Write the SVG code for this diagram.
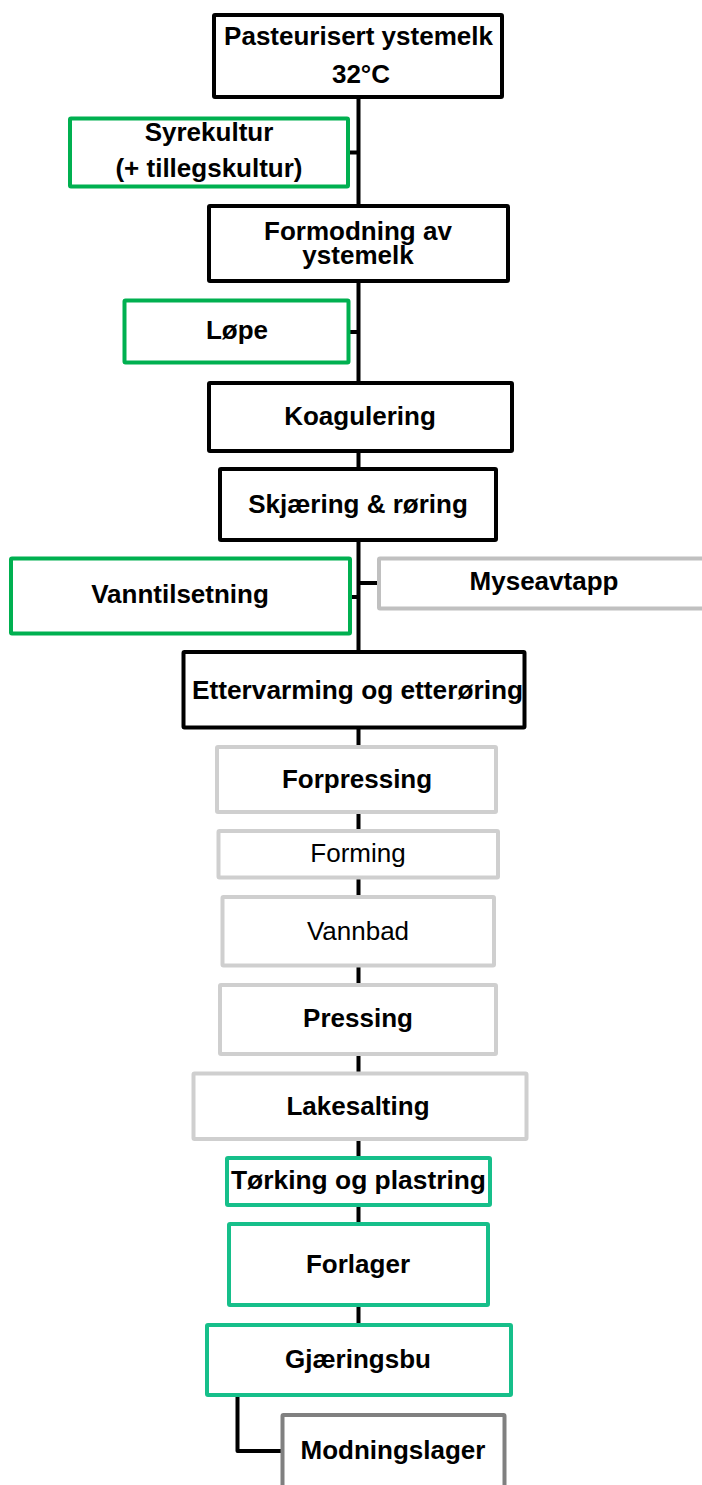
<svg xmlns="http://www.w3.org/2000/svg" width="702" height="1485" viewBox="0 0 702 1485">
<style>
.box{fill:#fff;stroke-width:4;stroke-linejoin:round}
.k{stroke:#000}
.g{stroke:#00b050}
.gr{stroke:#c0c0c0}
.lg{stroke:#cfcfcf}
.t{stroke:#16bf8a}
.dg{stroke:#808080}
.c{fill:none;stroke:#000;stroke-width:4;stroke-linejoin:round;stroke-linecap:butt}
text{font-family:"Liberation Sans",Arial,sans-serif;font-size:26px;font-weight:bold;fill:#000;text-anchor:middle}
text.r{font-weight:normal}
</style>
<rect width="702" height="1485" fill="#fff"/>
<g id="connectors">
<path class="c" d="M358.5 97 V1325"/>
<path class="c" d="M349 152.5 H358.5"/>
<path class="c" d="M349 332 H358.5"/>
<path class="c" d="M351 597 H358.5"/>
<path class="c" d="M358.5 583 H379"/>
<path class="c" d="M237.5 1395 V1451 H282.5"/>
</g>
<g id="n1"><rect class="box k" x="214" y="15" width="288" height="82" rx="1"/><text x="358.5" y="45">Pasteurisert ystemelk</text><text x="361" y="83">32°C</text></g>
<g id="n2"><rect class="box g" x="70" y="118.5" width="278" height="68" rx="1"/><text x="209" y="141">Syrekultur</text><text x="209" y="176.5">(+ tillegskultur)</text></g>
<g id="n3"><rect class="box k" x="209" y="206" width="299" height="75" rx="1"/><text x="358" y="239.5">Formodning av</text><text x="358" y="264">ystemelk</text></g>
<g id="n4"><rect class="box g" x="124.5" y="300.5" width="224" height="62" rx="1"/><text x="237" y="339">Løpe</text></g>
<g id="n5"><rect class="box k" x="209" y="383" width="303" height="68" rx="1"/><text x="360" y="425">Koagulering</text></g>
<g id="n6"><rect class="box k" x="220" y="469" width="276" height="71" rx="1"/><text x="358" y="513">Skjæring &amp; røring</text></g>
<g id="n7"><rect class="box g" x="11" y="558.5" width="339" height="75" rx="1"/><text x="180" y="603">Vanntilsetning</text></g>
<g id="n8"><rect class="box gr" x="379" y="558.5" width="340" height="50" rx="1"/><text x="544" y="590">Myseavtapp</text></g>
<g id="n9"><rect class="box k" x="183.5" y="652" width="341" height="75.5" rx="1"/><text x="357.5" y="699" textLength="331" lengthAdjust="spacingAndGlyphs">Ettervarming og etterøring</text></g>
<g id="n10"><rect class="box lg" x="217" y="747" width="279" height="65" rx="1"/><text x="357" y="788">Forpressing</text></g>
<g id="n11"><rect class="box lg" x="218.5" y="831" width="279.5" height="46.5" rx="1"/><text class="r" x="358" y="861.5">Forming</text></g>
<g id="n12"><rect class="box lg" x="222.5" y="897" width="271.5" height="68.5" rx="1"/><text class="r" x="358" y="940">Vannbad</text></g>
<g id="n13"><rect class="box lg" x="220" y="985" width="276" height="69" rx="1"/><text x="358" y="1026.5">Pressing</text></g>
<g id="n14"><rect class="box lg" x="193.5" y="1073.5" width="333" height="65.5" rx="1"/><text x="358" y="1115">Lakesalting</text></g>
<g id="n15"><rect class="box t" x="227" y="1158" width="263" height="47" rx="1"/><text x="358.5" y="1189" textLength="255" lengthAdjust="spacingAndGlyphs">Tørking og plastring</text></g>
<g id="n16"><rect class="box t" x="229" y="1224" width="259" height="81" rx="1"/><text x="358" y="1272.5">Forlager</text></g>
<g id="n17"><rect class="box t" x="207" y="1325" width="304" height="70" rx="1"/><text x="358" y="1368">Gjæringsbu</text></g>
<g id="n18"><rect class="box dg" x="282.5" y="1415" width="222" height="90" rx="1"/><text x="393" y="1459">Modningslager</text></g>
</svg>
